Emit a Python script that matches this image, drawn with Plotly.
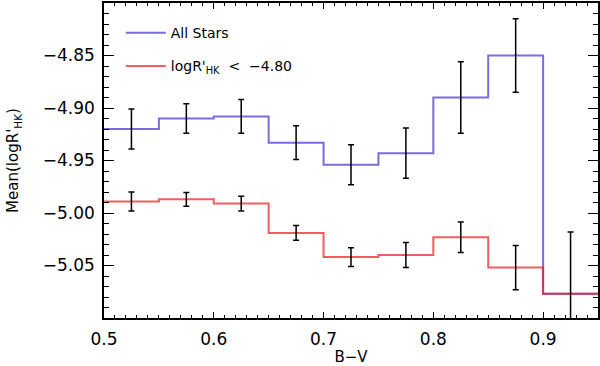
import plotly.graph_objects as go

# B-V bin edges (0.05 wide)
bv_edges = [0.50, 0.55, 0.60, 0.65, 0.70, 0.75, 0.80, 0.85, 0.90, 0.95]

# mean logR'HK per bin
all_mean = [-4.920, -4.910, -4.908, -4.933, -4.954, -4.943, -4.890, -4.850, -5.077]
all_err  = [0.019, 0.014, 0.016, 0.016, 0.019, 0.024, 0.034, 0.035, 0.059]

act_mean = [-4.989, -4.987, -4.991, -5.019, -5.042, -5.040, -5.023, -5.052, -5.077]
act_err  = [0.009, 0.0065, 0.007, 0.007, 0.009, 0.012, 0.0145, 0.021, 0.059]

# tick labels
x_ticks = [0.5, 0.6, 0.7, 0.8, 0.9]
x_labels = ["0.5", "0.6", "0.7", "0.8", "0.9"]
y_ticks = [-4.85, -4.90, -4.95, -5.00, -5.05]
y_labels = ["−4.85", "−4.90", "−4.95", "−5.00", "−5.05"]

C_ALL = "rgba(70,50,210,0.72)"
C_ACT = "rgba(235,30,35,0.72)"
FONT = "DejaVu Sans"

centers = [(a + b) / 2 for a, b in zip(bv_edges[:-1], bv_edges[1:])]

fig = go.Figure()

# histogram-style steps
fig.add_trace(go.Scatter(
    x=bv_edges, y=all_mean + all_mean[-1:],
    mode="lines", line=dict(color=C_ALL, width=2, shape="hv"),
    name="All Stars", legendgroup="a",
))
fig.add_trace(go.Scatter(
    x=bv_edges, y=act_mean + act_mean[-1:],
    mode="lines", line=dict(color=C_ACT, width=2, shape="hv"),
    name="logR'<sub>HK</sub>  <  −4.80", legendgroup="b",
))

# error bars (last bin is shared)
fig.add_trace(go.Scatter(
    x=centers, y=all_mean, mode="markers",
    marker=dict(size=1, color="black", opacity=0),
    error_y=dict(type="data", array=all_err, color="black", thickness=1.5, width=3),
    showlegend=False, hoverinfo="skip",
))
fig.add_trace(go.Scatter(
    x=centers[:-1], y=act_mean[:-1], mode="markers",
    marker=dict(size=1, color="black", opacity=0),
    error_y=dict(type="data", array=act_err[:-1], color="black", thickness=1.5, width=3),
    showlegend=False, hoverinfo="skip",
))

axis_common = dict(
    showline=True, linecolor="black", linewidth=1.5, mirror="allticks",
    ticks="inside", tickcolor="black", showgrid=False, zeroline=False,
    automargin=False,
    tickfont=dict(family=FONT, size=17, color="black"),
)

fig.update_layout(
    width=600, height=366,
    plot_bgcolor="white", paper_bgcolor="white",
    margin=dict(l=104, r=2, t=3, b=48),
    font=dict(family=FONT, size=15, color="black"),
    showlegend=True,
    legend=dict(
        x=0.034, y=0.955, xanchor="left", yanchor="top",
        bgcolor="rgba(0,0,0,0)", font=dict(family=FONT, size=14),
        traceorder="grouped", tracegroupgap=12, itemwidth=40,
    ),
    xaxis=dict(
        range=[0.5, 0.95], tickvals=x_ticks, ticktext=x_labels, ticklen=6,
        ticklabelstandoff=5,
        minor=dict(dtick=0.01, ticklen=3, ticks="inside", tickcolor="black"),
        title=dict(text="B−V", standoff=2, font=dict(family=FONT, size=15)),
        **axis_common,
    ),
    yaxis=dict(
        range=[-5.10, -4.80], tickvals=y_ticks, ticktext=y_labels, ticklen=10,
        ticklabelstandoff=4,
        minor=dict(dtick=0.01, ticklen=5, ticks="inside", tickcolor="black"),
        title=dict(text="Mean(logR'<sub>HK</sub>)", standoff=20,
                   font=dict(family=FONT, size=15)),
        **axis_common,
    ),
)

# page has default 8px body margin; drop it so the figure sits at 0,0
fig.write_html("out.html", config={"displayModeBar": False},
               post_script="document.body.style.margin='0';")
